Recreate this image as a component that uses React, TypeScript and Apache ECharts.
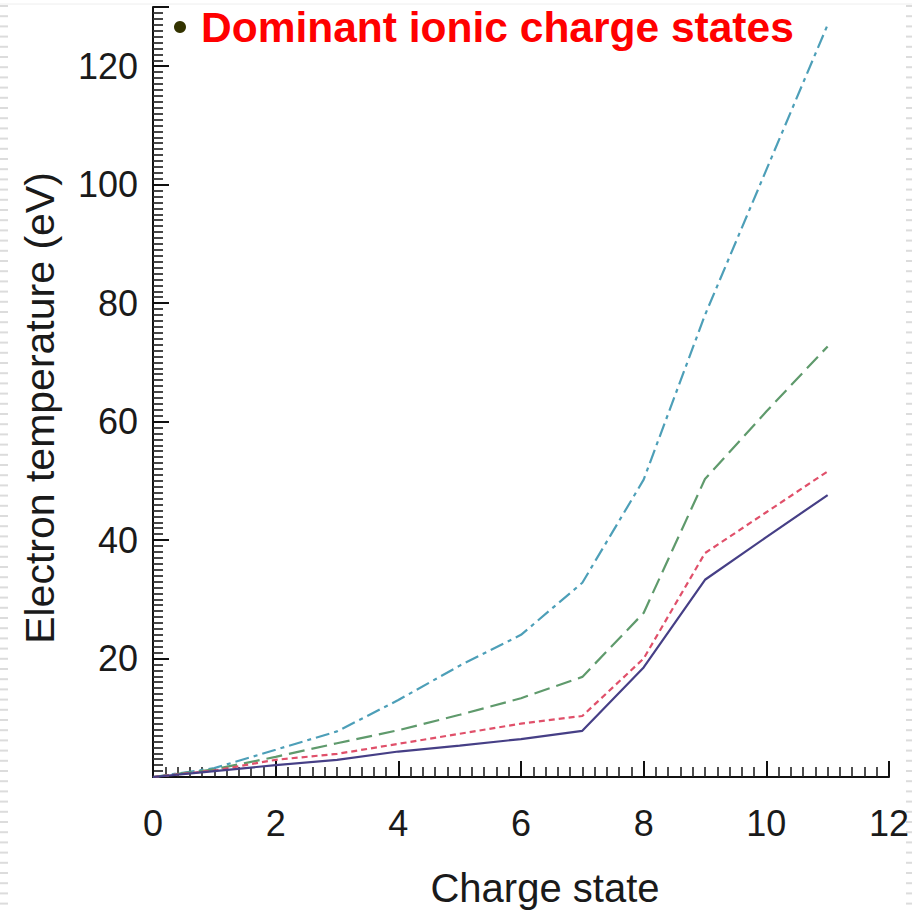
import React, { useEffect, useRef } from "react";
import * as echarts from "echarts";

// Charge state (x) and electron temperature in eV (y) for the four curves
const chargeStates = [0, 1, 2, 3, 4, 5, 6, 7, 8, 9, 10, 11];
const cyanTe = [0, 1.5, 4.6, 7.7, 13, 18.8, 24, 32.8, 50.2, 78, 102.5, 127];
const greenTe = [0, 1.3, 3.4, 5.7, 7.9, 10.5, 13.3, 16.9, 27.7, 50.3, 61.7, 72.7];
const redTe = [0, 1.1, 2.9, 3.9, 5.6, 7.3, 9.0, 10.3, 20, 37.8, 44.7, 51.6];
const blueTe = [0, 1.0, 2.0, 2.9, 4.3, 5.3, 6.4, 7.8, 18.5, 33.3, 40.5, 47.6];

const titleText = "Dominant ionic charge states";
const xName = "Charge state";
const yName = "Electron temperature (eV)";

const FONT = "'Liberation Sans', Arial, Helvetica, sans-serif";

function pairs(ys: number[]) {
  return chargeStates.map((x, i) => [x, ys[i]]);
}

// Faint slide-edge dash strips at the left and right borders
function edgeDashes() {
  const items: any[] = [];
  for (let y = 5; y < 911; y += 10.2) {
    items.push({
      type: "rect",
      silent: true,
      shape: { x: 0, y, width: 8, height: 2 },
      style: { fill: "#dcdcdc" },
    });
    items.push({
      type: "rect",
      silent: true,
      shape: { x: 906, y, width: 6, height: 2 },
      style: { fill: "#dcdcdc" },
    });
  }
  items.push({
    type: "line",
    silent: true,
    shape: { x1: 0, y1: 4, x2: 912, y2: 4 },
    style: { stroke: "#eeeeee", lineWidth: 1 },
  });
  return items;
}

export default function App() {
  const ref = useRef<HTMLDivElement>(null);

  useEffect(() => {
    if (!ref.current) return;
    const chart = echarts.init(ref.current, undefined, { renderer: "svg" });

    const mkSeries = (name: string, ys: number[], color: string, type: any) => ({
      name,
      type: "line",
      data: pairs(ys),
      symbol: "none",
      smooth: false,
      z: 3,
      lineStyle: { color, width: 2.2, type },
    });

    chart.setOption({
      animation: false,
      backgroundColor: "#ffffff",
      grid: { left: 153, right: 21, top: 7, bottom: 134, containLabel: false },
      xAxis: {
        type: "value",
        min: 0,
        max: 12,
        interval: 2,
        axisLine: { show: true, onZero: false, lineStyle: { color: "#111", width: 2 } },
        axisTick: { show: true, inside: true, length: 16, lineStyle: { color: "#111", width: 2 } },
        minorTick: { show: true, splitNumber: 10, length: 10, lineStyle: { color: "#222", width: 1.6 } },
        splitLine: { show: false },
        axisLabel: { color: "#1a1a1a", fontSize: 36, fontFamily: FONT, margin: 28 },
      },
      yAxis: {
        type: "value",
        min: 0,
        max: 130,
        interval: 20,
        axisLine: { show: true, onZero: false, lineStyle: { color: "#111", width: 2 } },
        axisTick: { show: true, inside: true, length: 16, lineStyle: { color: "#111", width: 2 } },
        minorTick: { show: true, splitNumber: 20, length: 10, lineStyle: { color: "#333", width: 1.8 } },
        splitLine: { show: false },
        axisLabel: {
          color: "#1a1a1a",
          fontSize: 36,
          fontFamily: FONT,
          margin: 15,
          showMinLabel: false,
          showMaxLabel: false,
        },
      },
      series: [
        mkSeries("cyan", cyanTe, "#4d9fb8", [14, 5, 4, 5]),
        mkSeries("green", greenTe, "#5f9a6c", [16, 7]),
        mkSeries("red", redTe, "#e0506a", [6, 4]),
        mkSeries("blue", blueTe, "#463f86", "solid"),
      ],
      graphic: [
        ...edgeDashes(),
        {
          type: "circle",
          silent: true,
          shape: { cx: 180, cy: 27, r: 6 },
          style: { fill: "#333300" },
        },
        {
          type: "text",
          silent: true,
          x: 201,
          y: 27,
          style: {
            text: titleText,
            fill: "#ff0000",
            font: `bold 42.5px ${FONT}`,
            verticalAlign: "middle",
          },
        },
        {
          type: "text",
          silent: true,
          x: 545,
          y: 888,
          style: {
            text: xName,
            fill: "#1a1a1a",
            font: `40px ${FONT}`,
            align: "center",
            verticalAlign: "middle",
          },
        },
        {
          type: "text",
          silent: true,
          x: 40,
          y: 408,
          rotation: Math.PI / 2,
          style: {
            text: yName,
            fill: "#1a1a1a",
            font: `41px ${FONT}`,
            align: "center",
            verticalAlign: "middle",
          },
        },
      ],
    });

    return () => chart.dispose();
  }, []);

  return (
    <div
      ref={ref}
      style={{ position: "absolute", left: 0, top: 0, width: 912, height: 911 }}
    />
  );
}
